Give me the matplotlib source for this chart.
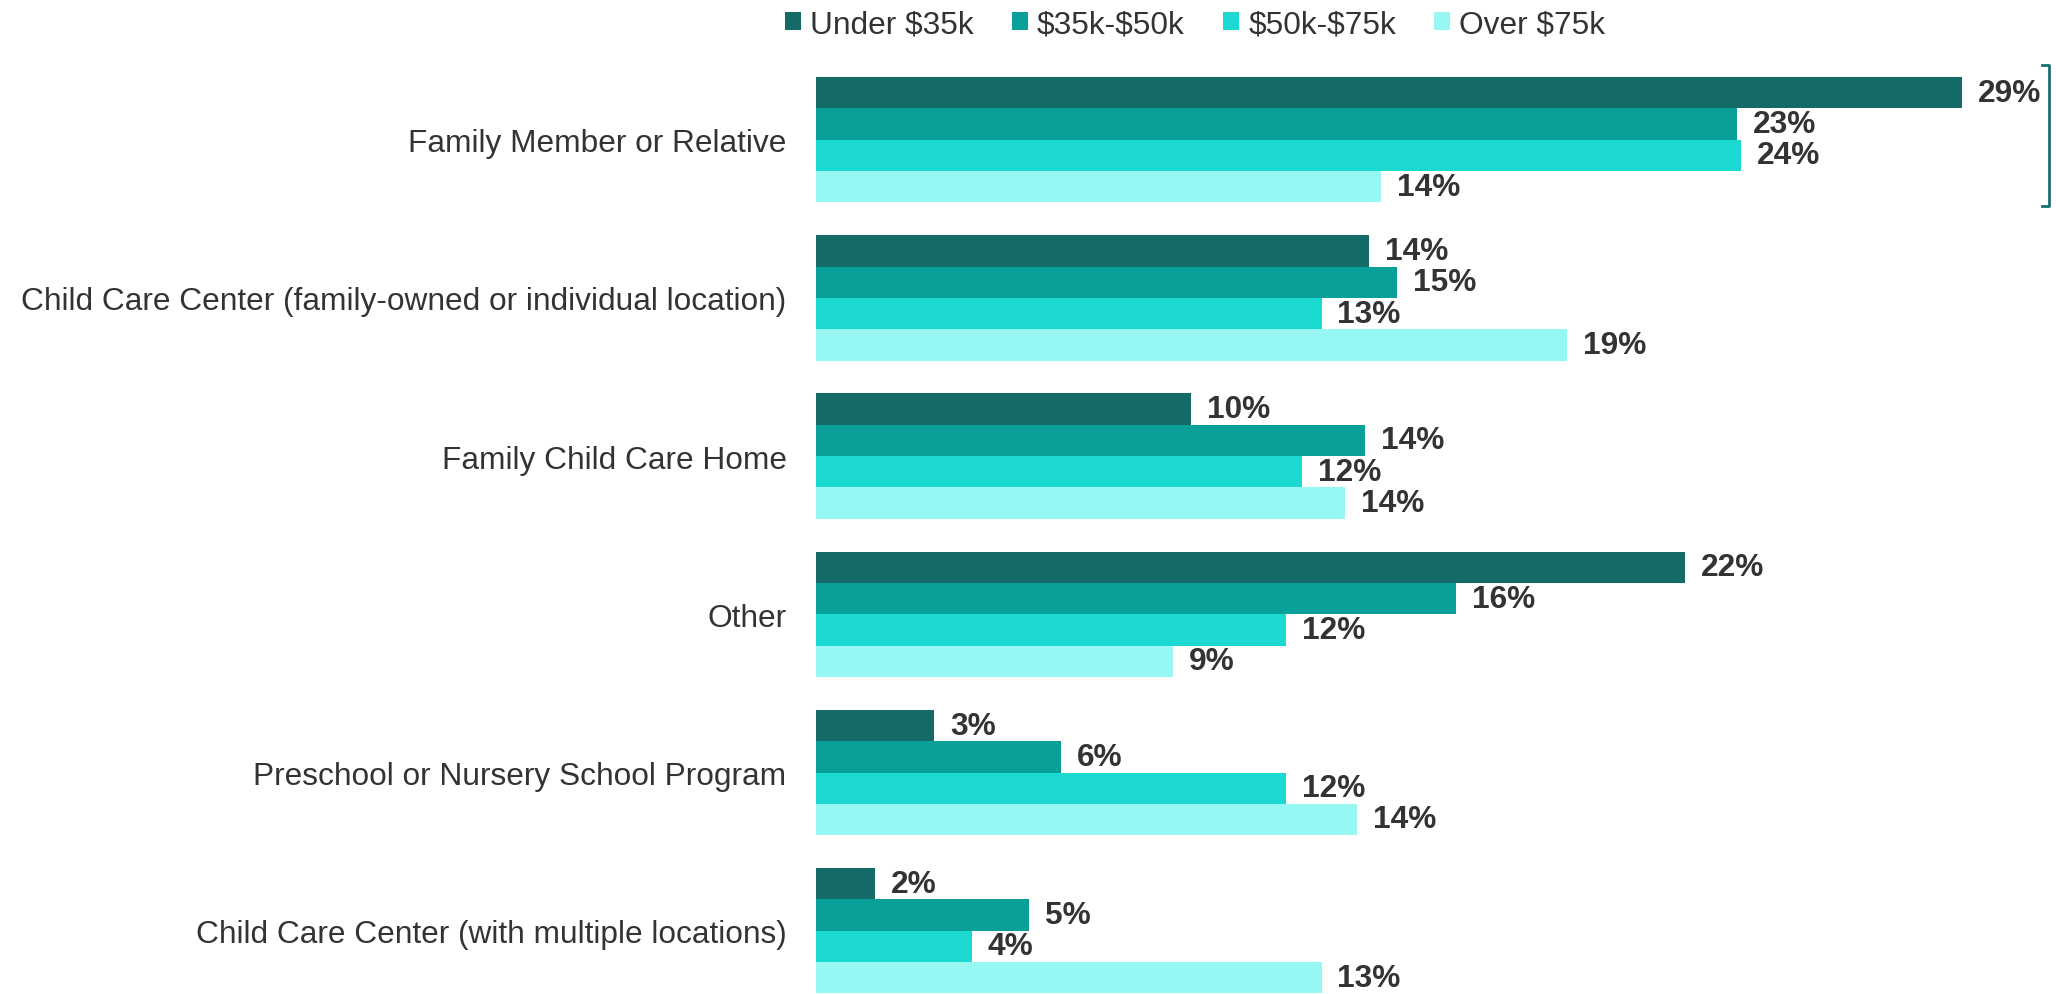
import matplotlib
matplotlib.use("Agg")
import matplotlib.pyplot as plt
from matplotlib.patches import Patch
from matplotlib.lines import Line2D
import numpy as np

plt.rcParams['font.family'] = ['Liberation Sans', 'DejaVu Sans']
plt.rcParams['text.parse_math'] = False

categories = [
    "Family Member or Relative",
    "Child Care Center (family-owned or individual location)",
    "Family Child Care Home",
    "Other",
    "Preschool or Nursery School Program",
    "Child Care Center (with multiple locations)",
]
series_names = ["Under $35k", "$35k-$50k", "$50k-$75k", "Over $75k"]
under_35k = [29.0, 14.0, 9.5, 22.0, 3.0, 1.5]
k35_50k = [23.3, 14.7, 13.9, 16.2, 6.2, 5.4]
k50_75k = [23.4, 12.8, 12.3, 11.9, 11.9, 3.95]
over_75k = [14.3, 19.0, 13.4, 9.05, 13.7, 12.8]
labels_under_35k = ["29%", "14%", "10%", "22%", "3%", "2%"]
labels_35_50k = ["23%", "15%", "14%", "16%", "6%", "5%"]
labels_50_75k = ["24%", "13%", "12%", "12%", "12%", "4%"]
labels_over_75k = ["14%", "19%", "14%", "9%", "14%", "13%"]

series = [under_35k, k35_50k, k50_75k, over_75k]
series_labels = [labels_under_35k, labels_35_50k, labels_50_75k, labels_over_75k]
colors = ["#136a66", "#0aa09a", "#1bd9d0", "#97f8f3"]
text_color = "#333333"
fs = 22.8

fig = plt.figure(figsize=(20.56, 9.95), dpi=100)
ax = fig.add_axes([815.5 / 2056, 0.0, 1186 / 2056, 1 - 77.4 / 995])

bar_h = 0.198
y = np.arange(len(categories))
for j, (vals, labs, col) in enumerate(zip(series, series_labels, colors)):
    ys = y + (j - 1.5) * bar_h
    ax.barh(ys, vals, height=bar_h, color=col, edgecolor="none")
    for yy, v, lab in zip(ys, vals, labs):
        ax.annotate(lab, xy=(v, yy), xytext=(11.5, 0), textcoords="offset points",
                    ha="left", va="center", fontsize=fs, fontweight="bold",
                    color=text_color)

ax.set_ylim(len(categories) - 0.6, -0.4)
ax.set_xlim(0, 30)
ax.set_yticks(y)
ax.set_yticklabels(categories, fontsize=fs, color=text_color)
ax.tick_params(axis="y", length=0, pad=20.8)
ax.set_xticks([])
for s in ax.spines.values():
    s.set_visible(False)

handles = [Patch(facecolor=c, edgecolor="none") for c in colors]
fig.legend(handles, series_names, loc="center", bbox_to_anchor=(1195 / 2056, 1 - 25 / 995),
           ncol=4, frameon=False, fontsize=fs, handlelength=0.5, handleheight=0.5,
           handletextpad=0.3, columnspacing=1.2, labelcolor=text_color)

# bracket on the right
bc = "#1b6f73"
fx = 2049 / 2056
y_top = 1 - 66 / 995
y_bot = 1 - 207 / 995
tick = 7 / 2056
fig.add_artist(Line2D([fx - tick, fx, fx, fx - tick], [y_top, y_top, y_bot, y_bot],
                      transform=fig.transFigure, color=bc, lw=2))

fig.savefig("out.png", dpi=100)
